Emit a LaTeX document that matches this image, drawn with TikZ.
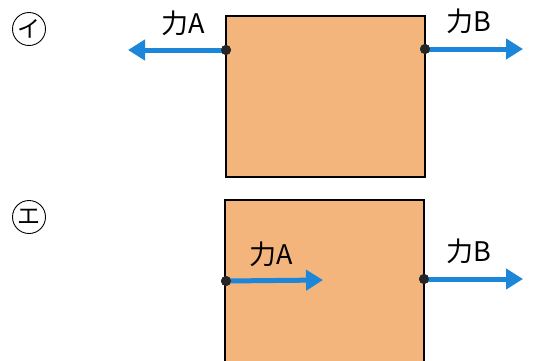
\documentclass[tikz,border=0pt]{standalone}
\usepackage{fontspec}
\newfontfamily\jp{Noto Sans CJK JP}
\usetikzlibrary{arrows.meta}
\definecolor{boxfill}{HTML}{F4B57C}
\definecolor{forceblue}{HTML}{1C86D8}
\tikzset{
  body/.style={draw=black, line width=1.3pt, fill=boxfill},
  force/.style={draw=forceblue, line width=5pt, -{Triangle[length=17pt,width=20pt]}},
  pt/.style={circle, fill=black!85, inner sep=0pt, minimum size=10pt},
  lbl/.style={font=\jp\fontsize{27}{27}\selectfont, inner sep=0pt},
  circlabel/.style={circle, draw=black, line width=0.9pt, minimum size=33pt, inner sep=0pt, font=\jp\fontsize{23}{23}\selectfont}
}
\begin{document}
\begin{tikzpicture}[x=1pt,y=-1pt]
\useasboundingbox (0,0) rectangle (551,360);
% top
\node[circlabel] (m1) at (29,29) {イ};
\draw[body] (226,16) rectangle (425,177);
\node[pt] (a1) at (226,50) {};
\node[pt] (b1) at (425,49) {};
\coordinate (ta1) at (128,50);
\coordinate (tb1) at (523,49);
\draw[force] (a1.center) -- (ta1);
\draw[force] (b1.center) -- (tb1);
\node[pt] at (226,50) {};
\node[pt] at (425,49) {};
\node[lbl] (la1) at (183,23) {力A};
\node[lbl] (lb1) at (469,21) {力B};
% bottom
\node[circlabel] (m2) at (29,217) {エ};
\draw[body] (225,200) rectangle (424,372);
\node[pt] (a2) at (226,281) {};
\node[pt] (b2) at (424,279) {};
\coordinate (ta2) at (323,280);
\coordinate (tb2) at (523,279);
\draw[force] (a2.center) -- (ta2);
\draw[force] (b2.center) -- (tb2);
\node[pt] at (226,281) {};
\node[pt] at (424,279) {};
\node[lbl] (la2) at (271,254) {力A};
\node[lbl] (lb2) at (469,251) {力B};
\end{tikzpicture}
\end{document}
